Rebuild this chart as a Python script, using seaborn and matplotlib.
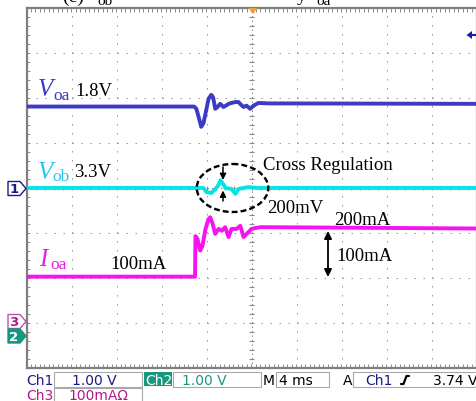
import matplotlib
matplotlib.use("Agg")
import matplotlib.pyplot as plt
from matplotlib.patches import Rectangle, Polygon, Ellipse
from matplotlib.lines import Line2D
import numpy as np
import pandas as pd
import seaborn as sns

W, H = 476, 402

# Time in ms (4 ms/div, trigger at 0); amplitude in screen divisions
voa_t = [-20.0, -12.0, -5.1, -4.9, -4.7, -4.47, -4.27, -4.0, -3.82, -3.58, -3.42,
         -3.22, -3.02, -2.78, -2.49, -2.22, -2.04, -1.78, -1.45, -1.16, -0.89,
         -0.71, -0.44, -0.12, 0.18, 0.62, 1.5, 20.0]
voa_v = [1.81, 1.81, 1.81, 1.76, 1.58, 1.36, 1.44, 1.76, 1.98, 2.07, 2.02,
         1.76, 1.80, 1.87, 1.80, 1.84, 1.87, 1.89, 1.91, 1.91, 1.84,
         1.80, 1.83, 1.76, 1.83, 1.89, 1.88, 1.87]

vob_t = [-20.0, -4.27, -4.0, -3.56, -3.2, -2.93, -2.76, -2.58, -2.31, -1.78,
         -1.42, -1.16, -0.27, 0.5, 20.0]
vob_v = [0.0, 0.0, -0.09, -0.11, -0.02, 0.07, 0.17, 0.11, 0.0, -0.02,
         -0.13, -0.02, 0.02, 0.0, 0.0]

ioa_t = [-20.0, -5.02, -4.98, -4.8, -4.56, -4.36, -4.09, -3.82, -3.67, -3.47,
         -3.23, -2.93, -2.64, -2.34, -2.04, -1.78, -1.33, -1.0, -0.71, -0.27,
         0.0, 0.33, 0.8, 20.0]
ioa_v = [-1.97, -1.97, -1.07, -1.13, -1.39, -1.29, -0.91, -0.69, -0.65, -0.78,
         -1.02, -0.91, -0.95, -0.87, -1.09, -0.91, -0.91, -0.84, -1.09, -0.98,
         -0.91, -0.89, -0.87, -0.90]

trace_colors = {"Ioa": "#f514f0", "Vob": "#00e6e6", "Voa": "#3b3bc4"}

df = pd.concat([
    pd.DataFrame({"t": ioa_t, "div": ioa_v, "trace": "Ioa"}),
    pd.DataFrame({"t": vob_t, "div": vob_v, "trace": "Vob"}),
    pd.DataFrame({"t": voa_t, "div": voa_v, "trace": "Voa"}),
], ignore_index=True)

sns.set_theme(style="white")
plt.rcParams["font.family"] = ["DejaVu Sans"]

fig = plt.figure(figsize=(W / 100, H / 100), dpi=100)
fig.patch.set_facecolor("white")

# scope screen: 10 x 8 divisions
ax = fig.add_axes([26.5 / W, 33 / H, 450 / W, 360 / H])
ax.set_xlim(-20, 20)
ax.set_ylim(-4, 4)
ax.set_xticks([])
ax.set_yticks([])
for sp in ax.spines.values():
    sp.set_color("#7f7f7f")
    sp.set_linewidth(1.6)

grid_c = "#9a9a9a"
for xv in [-16, -12, -8, -4, 4, 8, 12, 16]:
    ax.axvline(xv, color=grid_c, lw=0.72, dashes=(1.5, 7.5), zorder=1)
for yv in [-3, -2, -1, 1, 2, 3]:
    ax.axhline(yv, color=grid_c, lw=0.72, dashes=(1.5, 7.5), zorder=1)
# centre cross with fine ticks
ax.axvline(0, color="#8a8a8a", lw=0.72, dashes=(1.5, 3.0), zorder=1)
ax.axhline(0, color="#8a8a8a", lw=0.72, dashes=(1.5, 3.0), zorder=1)
ax.hlines(np.arange(-4, 4.01, 0.2), -0.22, 0.22, color="#8a8a8a", lw=0.8, zorder=1)
ax.vlines(np.arange(-20, 20.01, 0.8), -0.05, 0.05, color="#8a8a8a", lw=0.8, zorder=1)
# border ticks
edge_ticks = np.arange(-20, 20.01, 0.4)
ax.vlines(edge_ticks, 4 - 0.08, 4, color="#8a8a8a", lw=0.7, zorder=1)
ax.vlines(edge_ticks, -4, -4 + 0.08, color="#8a8a8a", lw=0.7, zorder=1)
ax.hlines(np.arange(-4, 4.01, 0.2), -20, -20 + 0.3, color="#8a8a8a", lw=0.7, zorder=1)

sns.lineplot(data=df, x="t", y="div", hue="trace", palette=trace_colors,
             estimator=None, sort=False, linewidth=2.8, legend=False, ax=ax, zorder=3)
ax.set_xlabel("")
ax.set_ylabel("")

# overlay in pixel coordinates for labels and the status bar
ov = fig.add_axes([0, 0, 1, 1])
ov.set_xlim(0, W)
ov.set_ylim(H, 0)
ov.axis("off")
ov.patch.set_visible(False)

serif = "Liberation Serif"

def stxt(x, y, s, size=13.5, color="black", style="normal"):
    ov.text(x, y, s, fontsize=size, color=color, fontstyle=style,
            fontfamily=serif, va="baseline", ha="left")

# caption line above the screen (cut off by the top edge)
stxt(62, 1.5, "(c)", size=14)
stxt(97, 5, "ob", size=11)
stxt(297, 1.0, "y", size=14)
stxt(316, 5, "oa", size=11)

# trace labels
stxt(38, 96.5, "V", size=18, color="#3b3bc4", style="italic")
stxt(53, 100, "oa", size=12.5, color="#3b3bc4")
stxt(75, 96, "1.8V")

stxt(38, 179, "V", size=18, color="#28c4ee", style="italic")
stxt(52, 181, "ob", size=12.5, color="#28c4ee")
stxt(74, 177, "3.3V")

stxt(39, 266, "I", size=18, color="#e81ae4", style="italic")
stxt(50, 269, "oa", size=12.5, color="#e81ae4")
stxt(110, 269, "100mA")

stxt(263, 170, "Cross Regulation")
stxt(267, 213, "200mV")
stxt(334, 225, "200mA")
stxt(336, 261, "100mA")

ov.add_patch(Ellipse((232.5, 189), 71.5, 48, fill=False, ec="black",
                     lw=1.7, ls=(0, (2.5, 1.3)), zorder=5))
arrow_kw = dict(arrowstyle="-|>", color="black", lw=1.1, mutation_scale=9,
                shrinkA=0, shrinkB=0)
ov.annotate("", xy=(223, 181), xytext=(223, 168), arrowprops=arrow_kw)
ov.annotate("", xy=(223, 191.5), xytext=(223, 202), arrowprops=arrow_kw)
ov.annotate("", xy=(328, 232), xytext=(328, 278),
            arrowprops=dict(arrowstyle="<|-|>", color="black", lw=1.3,
                            mutation_scale=11, shrinkA=0, shrinkB=0))

# trigger position and level markers
ov.add_patch(Polygon([(248.5, 9), (257.5, 9), (253, 15)], closed=True,
                     fc="#f0a030", ec="none", zorder=6))
ov.add_patch(Polygon([(466.5, 36), (472, 32), (472, 40)], closed=True,
                     fc="#1c1c9c", ec="none", zorder=6))
ov.add_line(Line2D([471, 477], [36, 36], color="#1c1c9c", lw=1.5))

# channel ground markers
navy = "#1a1a86"
teal = "#16987e"
mag = "#b0188e"

def marker(yc, label, edge, face, tcolor):
    ov.add_patch(Polygon([(8, yc - 7), (20, yc - 7), (26, yc), (20, yc + 7), (8, yc + 7)],
                         closed=True, fc=face, ec=edge, lw=1.0, zorder=6))
    ov.text(14, yc + 0.5, label, fontsize=9.5, color=tcolor, ha="center",
            va="center", fontweight="bold", zorder=7)

marker(189.5, "1", navy, "white", navy)
marker(322.5, "3", "#c050b0", "white", mag)
marker(337, "2", teal, teal, "white")

# status bar
box_c = "#a8a8a8"

def box(x0, y0, w, h):
    ov.add_patch(Rectangle((x0, y0), w, h, fill=False, ec=box_c, lw=0.8))

def sans(x, y, s, color, size=10):
    ov.text(x, y, s, fontsize=size, color=color, va="baseline", ha="left",
            fontfamily="DejaVu Sans")

box(54, 373, 88, 15)
box(173, 373, 88, 15)
box(276, 373, 53, 15)
box(353, 373, 130, 15)
box(54, 389, 88, 15)
ov.add_patch(Rectangle((144, 373), 28, 13.5, fc=teal, ec="none"))

sans(26, 385.5, "Ch1", navy)
sans(72, 385.5, "1.00 V", navy)
sans(145.5, 385.5, "Ch2", "white")
sans(182, 385.5, "1.00 V", teal)
sans(263, 385.5, "M", "black")
sans(279, 385.5, "4 ms", "black")
sans(343, 385.5, "A", "black")
sans(365, 385.5, "Ch1", navy)
ov.add_line(Line2D([401, 403.5, 406.5, 409], [385, 385, 377, 377], color="black", lw=1.6))
sans(433, 385.5, "3.74 V", "black")
sans(26, 400.5, "Ch3", mag)
sans(68, 400.5, "100mA\u03a9", mag)

fig.savefig("out.png", dpi=100, facecolor="white")
